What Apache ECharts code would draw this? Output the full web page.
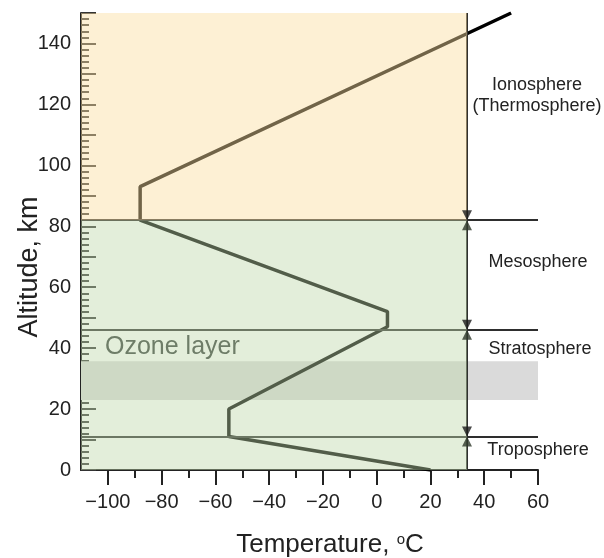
<!DOCTYPE html>
<html>
<head>
<meta charset="utf-8">
<script src="https://cdn.jsdelivr.net/npm/echarts@6/dist/echarts.min.js"></script>
<style>
  html, body { margin: 0; padding: 0; background: #fff; }
  #chart { width: 604px; height: 558px; }
</style>
</head>
<body>
<div id="chart"></div>
<script>
// temperature profile of the atmosphere (deg C vs km)
var profileTemp = [20, -55, -55, 4, 4, -88, -88, 50];
var profileAlt = [0, 11, 20, 47, 52, 82, 93, 150];

// layer boundaries (km) and the marker column (deg C)
var boundaryAlt = [11, 46, 82];
var markerTemp = 33.6;
var ozoneBand = [23, 35.7];

// shaded regions: [tempFrom, altFrom, tempTo, altTo]
var regions = [[-110, 82, markerTemp, 150], [-110, 0, markerTemp, 82]];
var regionFill = ['rgba(250,222,159,0.45)', 'rgba(190,215,169,0.43)'];

// axis ticks
var xMajor = [-100, -80, -60, -40, -20, 0, 20, 40, 60];
var xMinor = [-90, -70, -50, -30, -10, 10, 30, 50];
var yLabels = [0, 20, 40, 60, 80, 100, 120, 140];

var F = '"Liberation Sans", Arial, sans-serif';

var chart = echarts.init(document.getElementById('chart'));

var lineData = profileTemp.map(function (t, i) { return [t, profileAlt[i]]; });

var triData = [];
boundaryAlt.forEach(function (a) {
  triData.push({ value: [markerTemp, a], symbolRotate: 180, symbolOffset: [0, -5], itemStyle: { color: '#1c1c1c' } });
  triData.push({ value: [markerTemp, a], symbolRotate: 0, symbolOffset: [0, 5], itemStyle: { color: '#2f3a2c' } });
});

var bLines = boundaryAlt.map(function (a) {
  return [{ coord: [-110, a] }, { coord: [60, a] }];
});
bLines.push([{ coord: [markerTemp, 0] }, { coord: [markerTemp, 150] }]);

function fmt(v) { return v < 0 ? '\u2212' + (-v) : String(v); }

function label(x, y, txt) {
  return { type: 'text', x: x, y: y, z: 30, style: {
    text: txt, fontSize: 18, fontFamily: F, fill: '#222', align: 'center', verticalAlign: 'middle'
  } };
}

chart.setOption({
  animation: false,
  grid: { left: 81, right: 66, top: 13, bottom: 88 },
  xAxis: [{
    type: 'value', min: -110, max: 60, position: 'bottom',
    axisLine: { onZero: false, lineStyle: { color: '#222', width: 2 } },
    axisTick: { customValues: xMajor, length: 15, lineStyle: { color: '#222', width: 2 } },
    axisLabel: { customValues: xMajor, formatter: fmt, fontSize: 20, color: '#222', fontFamily: F, margin: 22 },
    splitLine: { show: false }
  }, {
    type: 'value', min: -110, max: 60, position: 'bottom',
    axisLine: { show: false, onZero: false },
    axisTick: { customValues: xMinor, length: 8, lineStyle: { color: '#222', width: 2 } },
    axisLabel: { show: false },
    splitLine: { show: false }
  }],
  yAxis: {
    type: 'value', min: 0, max: 150, interval: 10,
    axisLine: { onZero: false, lineStyle: { color: '#222', width: 2 } },
    axisTick: { inside: true, length: 15, lineStyle: { color: '#333', width: 2 } },
    minorTick: { show: true, splitNumber: 5, length: 8, lineStyle: { color: '#333', width: 2 } },
    axisLabel: { customValues: yLabels, fontSize: 20, color: '#222', fontFamily: F, margin: 10 },
    splitLine: { show: false }
  },
  series: [{
    // gray ozone band
    type: 'line', data: [], z: 1, silent: true,
    markArea: {
      silent: true,
      itemStyle: { color: '#dadada' },
      data: [[{ coord: [-110, ozoneBand[0]] }, { coord: [60, ozoneBand[1]] }]]
    }
  }, {
    // boundaries
    type: 'line', data: [], z: 2, silent: true,
    markLine: {
      silent: true, symbol: 'none', label: { show: false },
      lineStyle: { color: '#2e2e2e', width: 2, type: 'solid' },
      data: bLines
    }
  }, {
    type: 'line', data: lineData, z: 4, silent: true,
    showSymbol: false, symbol: 'none',
    lineStyle: { color: '#000', width: 3.5 }
  }, {
    // translucent region overlays
    type: 'custom', data: regions, z: 20, silent: true,
    encode: { x: [0, 2], y: [1, 3] },
    renderItem: function (params, api) {
      var p0 = api.coord([api.value(0), api.value(3)]);
      var p1 = api.coord([api.value(2), api.value(1)]);
      return {
        type: 'rect',
        shape: { x: p0[0], y: p0[1], width: p1[0] - p0[0], height: p1[1] - p0[1] },
        style: { fill: regionFill[params.dataIndex] }
      };
    }
  }, {
    type: 'scatter', data: triData, z: 25, silent: true,
    symbol: 'triangle', symbolSize: [10, 10]
  }],
  graphic: [
    { type: 'text', x: 330, y: 545, z: 30, style: {
        text: 'Temperature, {s|o}C', fontSize: 26, fontFamily: F, fill: '#222',
        align: 'center', verticalAlign: 'middle',
        rich: { s: { fontSize: 15, fontFamily: F, verticalAlign: 'top', lineHeight: 14 } }
      } },
    { type: 'text', x: 30, y: 267, z: 30, rotation: Math.PI / 2, style: {
        text: 'Altitude, km', fontSize: 27, fontFamily: F, fill: '#222',
        align: 'center', verticalAlign: 'middle'
      } },
    { type: 'text', x: 105, y: 347, z: 30, style: {
        text: 'Ozone layer', fontSize: 25, fontFamily: F, fill: '#6e7d68',
        align: 'left', verticalAlign: 'middle'
      } },
    label(537, 85, 'Ionosphere'),
    label(537, 106, '(Thermosphere)'),
    label(538, 262, 'Mesosphere'),
    label(540, 349, 'Stratosphere'),
    label(538, 450, 'Troposphere')
  ]
});
</script>
</body>
</html>
